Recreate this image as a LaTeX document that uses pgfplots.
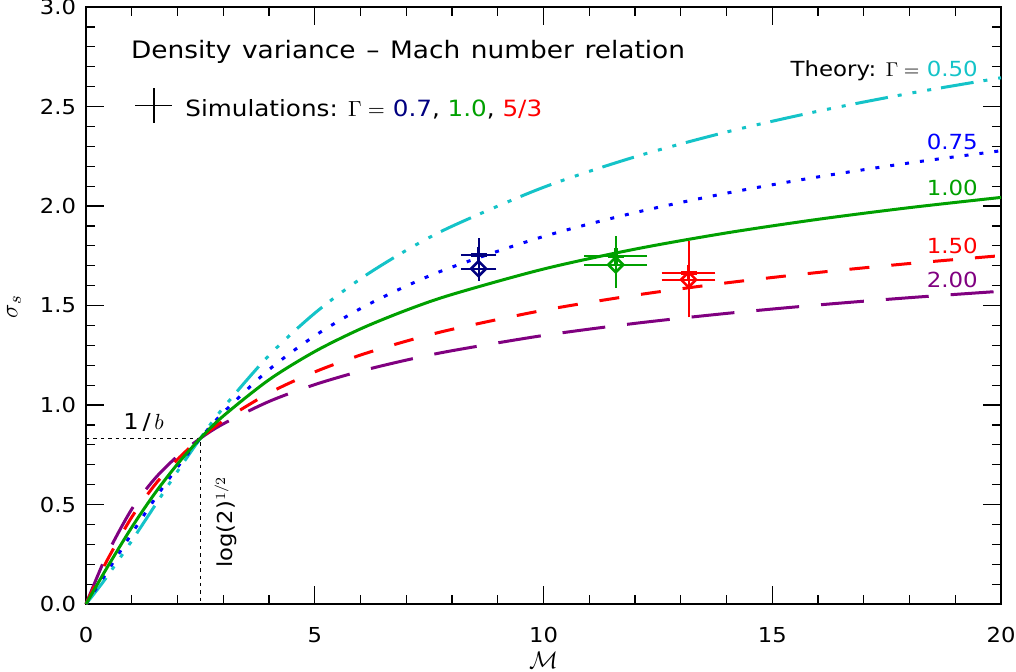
\documentclass[border=0pt]{standalone}
\usepackage{fontspec}
\setmainfont{DejaVu Sans}[FakeStretch=1.1]
\usepackage{pgfplots}
\pgfplotsset{compat=1.18}

\definecolor{thcyan}{RGB}{20,195,200}
\definecolor{thblue}{RGB}{0,0,255}
\definecolor{thgreen}{RGB}{0,160,0}
\definecolor{thred}{RGB}{255,0,0}
\definecolor{thpurple}{RGB}{128,0,128}
\definecolor{simnavy}{RGB}{0,0,128}

% sigma_s vs Mach number for polytropic index Gamma (b = 0.4)
\pgfplotstableread{
M     g050   g075   g100   g150   g200
0     0      0      0      0      0
0.25  0.0732 0.0872 0.0998 0.1212 0.1394
0.5   0.1509 0.1758 0.1980 0.2361 0.2680
1     0.3175 0.3539 0.3853 0.4364 0.4766
1.5   0.4923 0.5266 0.5545 0.5974 0.6288
2     0.6665 0.6873 0.7033 0.7268 0.7431
2.5   0.8326 0.8326 0.8326 0.8326 0.8326
3     0.9858 0.9619 0.9445 0.9207 0.9052
4     1.2494 1.1776 1.1268 1.0599 1.0177
5     1.4614 1.3476 1.2686 1.1662 1.1025
6     1.6340 1.4846 1.3824 1.2510 1.1700
7     1.7771 1.5977 1.4763 1.3209 1.2256
8     1.8982 1.6932 1.5555 1.3802 1.2728
10    2.0939 1.8468 1.6832 1.4761 1.3495
12    2.2470 1.9668 1.7832 1.5517 1.4102
14    2.3718 2.0644 1.8647 1.6137 1.4603
16    2.4763 2.1462 1.9331 1.6660 1.5027
18    2.5660 2.2164 1.9918 1.7110 1.5394
20    2.6443 2.2776 2.0431 1.7506 1.5717
}\theory

\begin{document}
\begin{tikzpicture}
\begin{axis}[
  scale only axis, width=457.5pt, height=298.5pt,
  xmin=0, xmax=20, ymin=0, ymax=3,
  xtick={0,5,10,15,20}, ytick={0,0.5,1,1.5,2,2.5,3},
  minor x tick num=4, minor y tick num=4,
  tick align=inside, major tick length=9pt, minor tick length=4.5pt,
  tick style={black, line width=0.6pt},
  axis line style={line width=0.8pt},
  /pgf/number format/assume math mode=true,
  ticklabel style={font=\fontsize{10.3}{12}\selectfont},
  yticklabel style={/pgf/number format/fixed, /pgf/number format/fixed zerofill,
    /pgf/number format/precision=1, xshift=-1.5pt},
  xticklabel style={yshift=-8pt},
  clip=false,
  error bars/error bar style={line width=1pt},
  error bars/error mark options={line width=1pt, mark size=2pt},
]
\coordinate (ll) at (rel axis cs:0,0);
\coordinate (ur) at (rel axis cs:1,1);

% guides at the crossing point
\addplot[black, line width=0.5pt, dash pattern=on 1.7pt off 2pt]
  coordinates {(0,0.8326) (2.5,0.8326) (2.5,0)};

% theory curves
\addplot[thcyan, line width=1.5pt, smooth,
  dash pattern=on 16.5pt off 5pt on 2pt off 5.5pt on 2pt off 5.5pt on 2pt off 5pt]
  table[x=M, y=g050] {\theory};
\addplot[thblue, line width=1.5pt, smooth, dash pattern=on 2pt off 5.5pt]
  table[x=M, y=g075] {\theory};
\addplot[thpurple, line width=1.5pt, smooth, dash pattern=on 21.5pt off 11pt]
  table[x=M, y=g200] {\theory};
\addplot[thred, line width=1.5pt, smooth, dash pattern=on 10pt off 11pt]
  table[x=M, y=g150] {\theory};
\addplot[thgreen, line width=1.5pt, smooth]
  table[x=M, y=g100] {\theory};

% simulations: plus and diamond estimates
\addplot[simnavy, only marks, mark=+, mark size=4pt, line width=1.8pt,
  error bars/.cd, x dir=both, x explicit, y dir=both, y explicit]
  coordinates {(8.58,1.755) +- (0.30,0.062)};
\addplot[simnavy, only marks, mark=square, mark size=2.65pt, line width=1.3pt,
  mark options={rotate=45},
  error bars/.cd, x dir=both, x explicit, y dir=both, y explicit]
  coordinates {(8.58,1.685) +- (0.30,0.04)};
\addplot[thgreen, only marks, mark=+, mark size=4pt, line width=1.8pt,
  error bars/.cd, x dir=both, x explicit, y dir=both, y explicit]
  coordinates {(11.58,1.747) +- (0.60,0.08)};
\addplot[thgreen, only marks, mark=square, mark size=2.65pt, line width=1.3pt,
  mark options={rotate=45},
  error bars/.cd, x dir=both, x explicit, y dir=both, y explicit]
  coordinates {(11.58,1.705) +- (0.60,0.095)};
\addplot[thred, only marks, mark=+, mark size=4pt, line width=1.8pt,
  error bars/.cd, x dir=both, x explicit, y dir=both, y explicit]
  coordinates {(13.17,1.663) +- (0.50,0.14)};
\addplot[thred, only marks, mark=square, mark size=2.65pt, line width=1.3pt,
  mark options={rotate=45},
  error bars/.cd, x dir=both, x explicit, y dir=both, y explicit]
  coordinates {(13.17,1.630) +- (0.50,0.17)};

% legend symbol for the simulations
\addplot[black, mark=none, line width=0.8pt,
  error bars/.cd, x dir=both, x explicit, y dir=both, y explicit,
  error bar style={line width=0.8pt}, error mark options={mark size=0pt}]
  coordinates {(1.48,2.505) +- (0.41,0.09)};

% text
\node[anchor=base west, inner sep=0pt, font=\fontsize{12}{14}\selectfont]
  at (axis cs:0.976,2.740) {\makebox[277pt][s]{Density variance -- Mach number relation}};
\node[anchor=base west, inner sep=0pt, font=\fontsize{11.2}{13}\selectfont]
  at (axis cs:2.164,2.450) {Simulations: $\Gamma =$ \textcolor{simnavy}{0.7}, \textcolor{thgreen}{1.0}, \textcolor{thred}{5/3}};
\begin{scope}[every node/.style={anchor=base east, inner sep=0pt, font=\fontsize{10.4}{12}\selectfont}]
\node at (axis cs:19.5,2.652) {Theory: $\Gamma =$ \textcolor{thcyan}{0.50}};
\node[text=thblue] at (axis cs:19.5,2.284) {0.75};
\node[text=thgreen] at (axis cs:19.5,2.054) {1.00};
\node[text=thred] at (axis cs:19.5,1.761) {1.50};
\node[text=thpurple] at (axis cs:19.5,1.590) {2.00};
\end{scope}
\node[anchor=base west, inner sep=0pt, font=\fontsize{11}{13}\selectfont]
  at (axis cs:0.81,0.875) {1\,/\,$b$};
\node[anchor=base west, rotate=90, inner sep=0pt, font=\fontsize{10.3}{12}\selectfont]
  at (axis cs:3.2,0.181) {log(2)$^{1/2}$};

% axis titles
\node[rotate=90, inner sep=0pt, font=\fontsize{12.5}{14}\selectfont] at ([xshift=-36pt]rel axis cs:0,0.498) {$\sigma_s$};
\node[inner sep=0pt, font=\fontsize{12}{14}\selectfont] at ([yshift=-28pt]rel axis cs:0.5,0) {$\mathcal{M}$};
\end{axis}
\pgfresetboundingbox
\path ([shift={(-43pt,-33.5pt)}]ll) rectangle ([shift={(7.5pt,3.5pt)}]ur);
\end{tikzpicture}
\end{document}
